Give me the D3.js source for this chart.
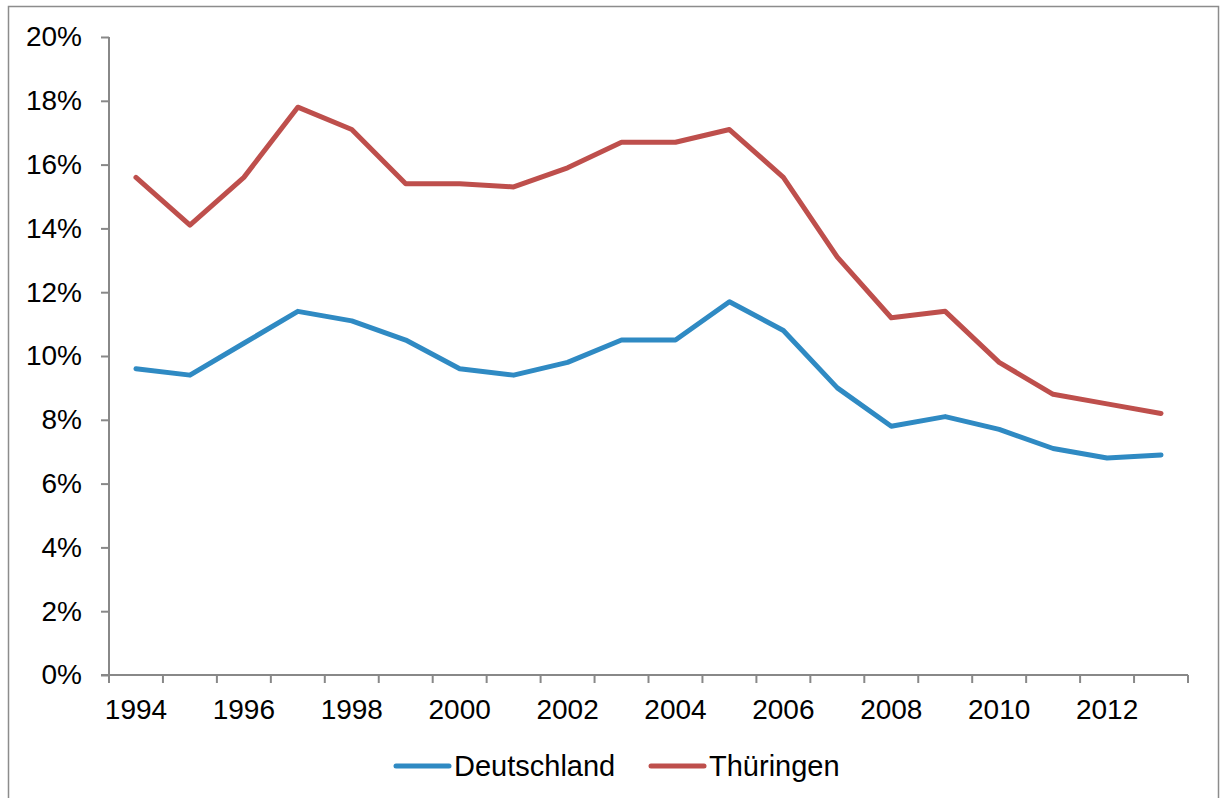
<html lang="de">
<head>
<meta charset="utf-8">
<title>Deutschland / Thüringen</title>
<script src="https://cdn.jsdelivr.net/npm/d3@7"></script>
<style>
body { margin: 0; background: #fff; }
text { font-family: "Liberation Sans", Arial, sans-serif; fill: #000; }
</style>
</head>
<body>
<script>
var years = [1994,1995,1996,1997,1998,1999,2000,2001,2002,2003,2004,2005,2006,2007,2008,2009,2010,2011,2012,2013];
var deutschland = [9.6,9.4,10.4,11.4,11.1,10.5,9.6,9.4,9.8,10.5,10.5,11.7,10.8,9.0,7.8,8.1,7.7,7.1,6.8,6.9];
var thueringen = [15.6,14.1,15.6,17.8,17.1,15.4,15.4,15.3,15.9,16.7,16.7,17.1,15.6,13.1,11.2,11.4,9.8,8.8,8.5,8.2];
var yTicks = [0,2,4,6,8,10,12,14,16,18,20];
var seriesNames = ["Deutschland", "Thüringen"];
var colors = ["#2F8AC3", "#BE4F4C"];

var w = 1221, h = 798;
var plotL = 109, plotR = 1188, plotT = 37, plotB = 675;

var svg = d3.select("body").append("svg").attr("width", w).attr("height", h);

// outer frame
svg.append("rect").attr("x", 8.5).attr("y", 6.5).attr("width", 1210).attr("height", 800)
   .attr("fill", "none").attr("stroke", "#8c8c8c").attr("stroke-width", 1.5);

var x = d3.scaleBand().domain(years).range([plotL, plotR]);
var y = d3.scaleLinear().domain([0, 20]).range([plotB, plotT]);

// y axis
var yAxis = d3.axisLeft(y).tickValues(yTicks).tickSize(8).tickPadding(19)
   .tickFormat(function(d) { return d + "%"; });
var gy = svg.append("g").attr("transform", "translate(" + plotL + ",0)").call(yAxis);
gy.select(".domain").attr("stroke", "#888").attr("stroke-width", 2).attr("d", "M0," + plotT + "V" + plotB);
gy.selectAll(".tick line").attr("stroke", "#888").attr("stroke-width", 2);
gy.selectAll(".tick text").attr("font-size", 28).attr("font-family", "Liberation Sans, Arial, sans-serif").attr("fill", "#000");

// x axis: ticks on category boundaries
var gx = svg.append("g").attr("transform", "translate(0," + plotB + ")");
gx.append("line").attr("x1", plotL - 8).attr("x2", plotR).attr("y1", 0).attr("y2", 0)
  .attr("stroke", "#888").attr("stroke-width", 2);
var bounds = years.map(function(d) { return x(d); }).concat([plotR]);
gx.selectAll("line.tk").data(bounds).enter().append("line").attr("class", "tk")
  .attr("x1", function(d) { return d; }).attr("x2", function(d) { return d; })
  .attr("y1", 0).attr("y2", 8).attr("stroke", "#888").attr("stroke-width", 2);
gx.selectAll("text").data(years.filter(function(d, i) { return i % 2 === 0; })).enter().append("text")
  .attr("x", function(d) { return x(d) + x.bandwidth() / 2; })
  .attr("y", 44).attr("text-anchor", "middle").attr("font-size", 28)
  .text(function(d) { return d; });

var line = d3.line()
  .x(function(d, i) { return x(years[i]) + x.bandwidth() / 2; })
  .y(function(d) { return y(d); });

[deutschland, thueringen].forEach(function(s, i) {
  svg.append("path").datum(s).attr("d", line).attr("fill", "none")
     .attr("stroke", colors[i]).attr("stroke-width", 5).attr("stroke-linejoin", "round").attr("stroke-linecap", "round");
});

// legend
var legX = [396, 651];
seriesNames.forEach(function(n, i) {
  svg.append("line").attr("x1", legX[i]).attr("x2", legX[i] + 53).attr("y1", 766).attr("y2", 766)
     .attr("stroke", colors[i]).attr("stroke-width", 5).attr("stroke-linecap", "round");
  svg.append("text").attr("x", legX[i] + 58).attr("y", 776).attr("font-size", 29).text(n);
});
</script>
</body>
</html>
